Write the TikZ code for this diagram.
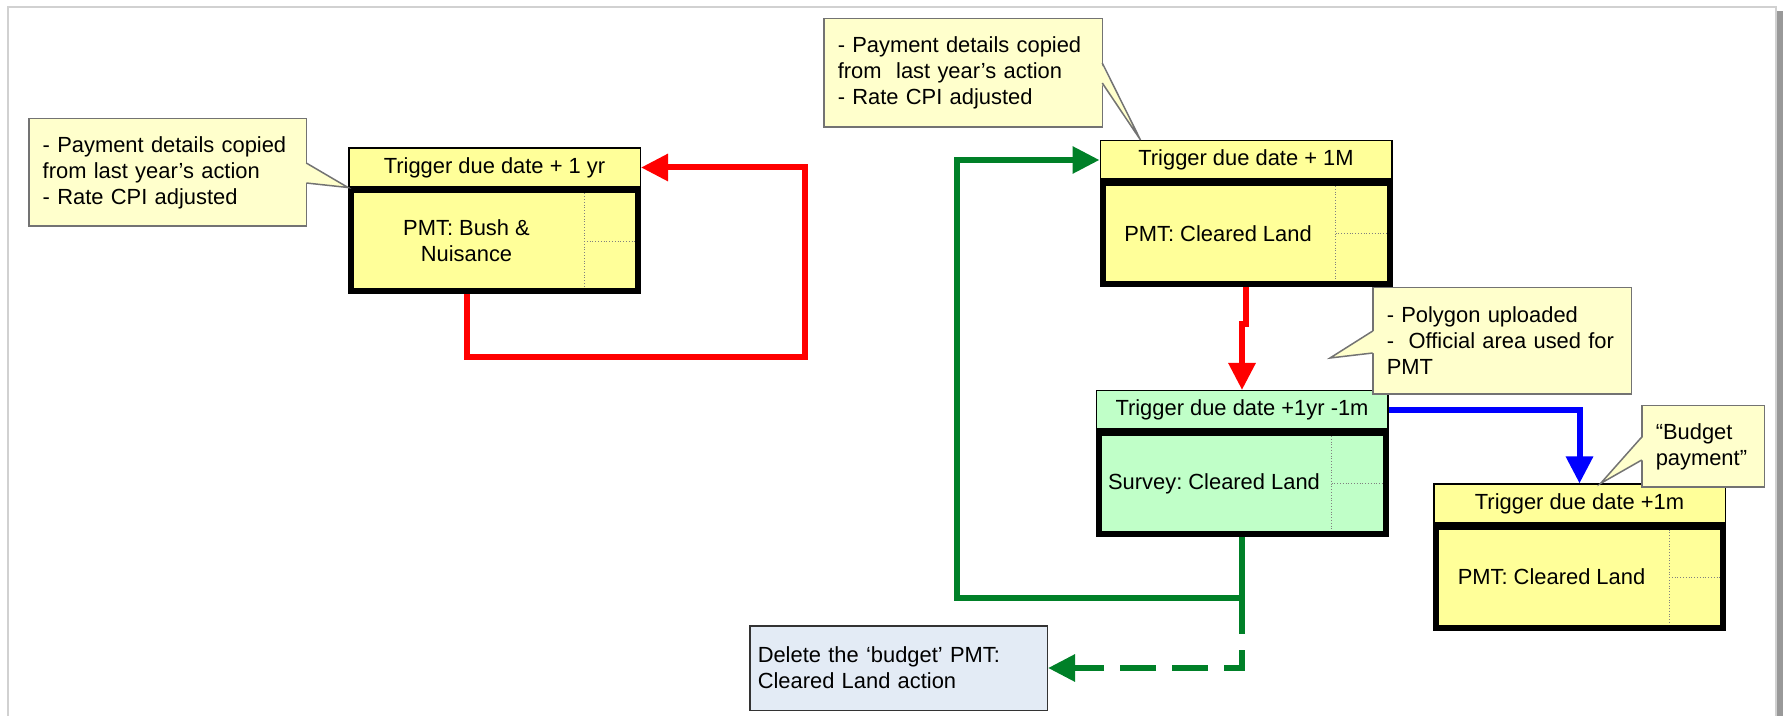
\documentclass[tikz,border=0pt]{standalone}
\usepackage{fontspec}
\setmainfont{Liberation Sans}
\usetikzlibrary{arrows.meta,
		calc,
		positioning}

\definecolor{pmtyellow}{RGB}{255,255,153}
\definecolor{notefill}{RGB}{255,255,204}
\definecolor{surveygreen}{RGB}{192,255,200}
\definecolor{delfill}{RGB}{227,235,245}
\definecolor{flowred}{RGB}{255,0,0}
\definecolor{flowgreen}{RGB}{0,128,40}
\definecolor{flowblue}{RGB}{0,0,255}

\frenchspacing

\begin{document}
\begin{tikzpicture}[x=0.5pt, y=-0.5pt,
  every node/.append style={font=\fontsize{10.95pt}{13pt}\selectfont, inner sep=0pt},
  hdr/.style={draw=black, line width=0.75pt, fill=pmtyellow,
    minimum width=145.75pt, minimum height=19.25pt},
  mainbox/.style={draw=black, line width=3pt, fill=pmtyellow,
    minimum width=143.5pt, minimum height=50.5pt},
  note/.style={draw=black!55, line width=0.75pt, fill=notefill,
    align=left, inner xsep=7pt},
  notetip/.style={draw=black!55, line width=0.75pt},
  delbox/.style={draw=black!80, line width=0.75pt, fill=delfill,
    align=left, inner xsep=4pt, text width=140.75pt, minimum height=42.25pt},
  divider/.style={draw=black!50, densely dotted, line width=0.4pt},
  flow/.style={line width=3pt, -{Triangle[length=13.5pt,width=13pt]}}]

\useasboundingbox (0,0) rectangle (1783,716);

% page frame
\draw [draw=black!18, line width=0.75pt] (8,716) -- (8,7) -- (1776,7) -- (1776,716);
\fill [black!40] (1777,11) rectangle (1783,716);

% bush & nuisance
\node [mainbox] (m1) at (494.5,241) {};
\node [hdr, above=0pt of m1] (h1) {Trigger due date + 1 yr};
\draw [divider] ($(m1.north east)+(-57,6)$) -- ($(m1.south east)+(-57,-6)$);
\draw [divider] ($(m1.east)+(-57,0)$) -- ($(m1.east)+(-6,0)$);
\node [align=center] (t1) at ($(m1.center)+(-28,0)$) {PMT: Bush \&\\Nuisance};

% cleared land
\node [mainbox] (m2) at (1246,233.5) {};
\node [hdr, above=0pt of m2] (h2) {Trigger due date + 1M};
\draw [divider] ($(m2.north east)+(-57,6)$) -- ($(m2.south east)+(-57,-6)$);
\draw [divider] ($(m2.east)+(-57,0)$) -- ($(m2.east)+(-6,0)$);
\node (t2) at ($(m2.center)+(-28,0)$) {PMT: Cleared Land};

% survey
\node [mainbox, fill=surveygreen] (m3) at (1242,483.5) {};
\node [hdr, fill=surveygreen, above=0pt of m3] (h3) {Trigger due date +1yr -1m};
\draw [divider] ($(m3.north east)+(-57,6)$) -- ($(m3.south east)+(-57,-6)$);
\draw [divider] ($(m3.east)+(-57,0)$) -- ($(m3.east)+(-6,0)$);
\node (t3) at ($(m3.center)+(-28,0)$) {Survey: Cleared Land};

% budget payment
\node [mainbox] (m4) at (1579.5,577) {};
\node [hdr, above=0pt of m4] (h4) {Trigger due date +1m};
\draw [divider] ($(m4.north east)+(-57,6)$) -- ($(m4.south east)+(-57,-6)$);
\draw [divider] ($(m4.east)+(-57,0)$) -- ($(m4.east)+(-6,0)$);
\node (t4) at ($(m4.center)+(-28,0)$) {PMT: Cleared Land};

\node [delbox] (del) at (898.5,668) {Delete the ‘budget’ PMT:\\Cleared Land action};

% flows
\coordinate (redturn) at (805,357);
\coordinate (greenturn) at (957,598);
\draw [flow, flowred] (t1 |- m1.south) |- (redturn) |- (h1.east);
\draw [flow, flowred] (m2.south) -- ++(0,37) -| (h3.north);
\draw [flow, flowblue] (h3.east) -| (h4.north);
\draw [flow, flowgreen] (m3.south) |- (greenturn) |- (h2.west);
\draw [flow, flowgreen, dash pattern=on 18pt off 8pt] (m3.south |- greenturn) |- (del.east);

% notes
\node [note, text width=124.75pt, minimum height=53.75pt] (c1) at (167.5,172.5)
  {- Payment details copied\\from last year's action\\- Rate CPI adjusted};
\fill [notefill] ($(c1.north east)+(-2,45)$) -- (h1.south west) -- ($(c1.north east)+(-2,65)$) -- cycle;
\draw [notetip] ($(c1.north east)+(-0.75,45)$) -- (h1.south west) -- ($(c1.north east)+(-0.75,65)$);

\node [note, text width=125.25pt, minimum height=54.25pt] (c2) at (963,73)
  {- Payment details copied\\from~ last year's action\\- Rate CPI adjusted};
\fill [notefill] ($(c2.north east)+(-2,45)$) -- ($(h2.north west)+(41,0)$) -- ($(c2.north east)+(-2,65)$) -- cycle;
\draw [notetip] ($(c2.north east)+(-0.75,45)$) -- ($(h2.north west)+(41,0)$) -- ($(c2.north east)+(-0.75,65)$);

\node [note, text width=115.25pt, minimum height=53.25pt] (c3) at (1502,341)
  {- Polygon uploaded\\-~ Official area used for\\PMT};
\fill [notefill] ($(c3.north west)+(2,44)$) -- ($(c3.north west)+(-42,71)$) -- ($(c3.north west)+(2,66)$) -- cycle;
\draw [notetip] ($(c3.north west)+(0.75,44)$) -- ($(c3.north west)+(-42,71)$) -- ($(c3.north west)+(0.75,66)$);

\node [note, text width=47.25pt, minimum height=40.75pt] (c4) at (1703,446.5)
  {“Budget\\payment”};
\fill [notefill] ($(c4.north west)+(2,32)$) -- ($(h4.north)+(21,0)$) -- ($(c4.north west)+(2,55)$) -- cycle;
\draw [notetip] ($(c4.north west)+(0.75,32)$) -- ($(h4.north)+(21,0)$) -- ($(c4.north west)+(0.75,55)$);

\end{tikzpicture}
\end{document}
